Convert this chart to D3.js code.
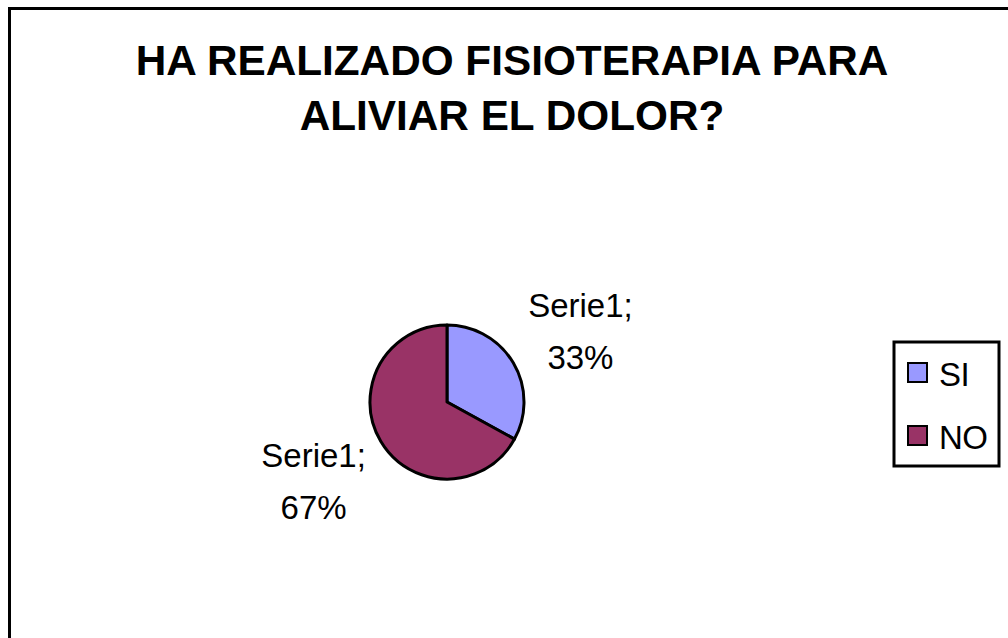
<!DOCTYPE html>
<html>
<head>
<meta charset="utf-8">
<script src="https://cdn.jsdelivr.net/npm/d3@7"></script>
<style>
	body { margin: 0; background: #fff; }
	svg { display: block; font-family: "Liberation Sans", Arial, sans-serif; }
</style>
</head>
<body>
<div id="chart"></div>
<script>
var width = 1008,
	height = 638;

// chart data
var categories = ['SI', 'NO'];
var values = [33, 67];
var seriesName = 'Serie1';
var colors = ['#9999ff', '#993366'];
var titleLines = ['HA REALIZADO FISIOTERAPIA PARA', 'ALIVIAR EL DOLOR?'];

var data = categories.map(function(c, i) {
	return { name: c, value: values[i], color: colors[i] };
});

var svg = d3.select('#chart')
	.append('svg')
	.attr('width', width)
	.attr('height', height);

// outer frame (runs off the bottom/right of the picture)
svg.append('rect')
	.attr('x', 9.5)
	.attr('y', 8.5)
	.attr('width', 1010)
	.attr('height', 650)
	.style('fill', '#fff')
	.style('stroke', '#000')
	.style('stroke-width', 3);

// title
svg.append('g')
	.selectAll('text')
	.data(titleLines)
	.enter()
	.append('text')
	.attr('x', 512)
	.attr('y', function(d, i) { return 75 + i * 55; })
	.attr('text-anchor', 'middle')
	.style('font-size', '42.3px')
	.style('font-weight', 'bold')
	.text(function(d) { return d; });

// pie
var cx = 447, cy = 402, radius = 77;

var pie = d3.pie()
	.sort(null)
	.value(function(d) { return d.value; });

var arc = d3.arc()
	.innerRadius(0)
	.outerRadius(radius);

// unit arc: centroid gives the direction of the slice middle
var dirArc = d3.arc()
	.innerRadius(1)
	.outerRadius(1);

var labelRx = 155, labelRy = 148;

var total = d3.sum(values);
var arcs = pie(data);

var g = svg.append('g')
	.attr('transform', 'translate(' + cx + ',' + cy + ')');

g.selectAll('path.slice')
	.data(arcs)
	.enter()
	.append('path')
	.classed('slice', true)
	.attr('d', arc)
	.style('fill', function(d) { return d.data.color; })
	.style('stroke', '#000')
	.style('stroke-width', 3)
	.style('stroke-linejoin', 'round');

var labels = g.selectAll('text.label')
	.data(arcs)
	.enter()
	.append('text')
	.classed('label', true)
	.attr('text-anchor', 'middle')
	.style('font-size', '33px');

function lx(d) { return dirArc.centroid(d)[0] * labelRx; }
function ly(d) { return dirArc.centroid(d)[1] * labelRy; }

labels.append('tspan')
	.attr('x', lx)
	.attr('y', function(d) { return ly(d) - 10; })
	.text(seriesName + ';');

labels.append('tspan')
	.attr('x', lx)
	.attr('y', function(d) { return ly(d) + 42; })
	.text(function(d) { return Math.round(d.data.value / total * 100) + '%'; });

// legend
var legend = svg.append('g')
	.attr('transform', 'translate(894,342)');

legend.append('rect')
	.attr('x', 0)
	.attr('y', 0)
	.attr('width', 105)
	.attr('height', 124)
	.style('fill', '#fff')
	.style('stroke', '#000')
	.style('stroke-width', 3);

var items = legend.selectAll('g.item')
	.data(data)
	.enter()
	.append('g')
	.classed('item', true)
	.attr('transform', function(d, i) { return 'translate(0,' + (i * 63) + ')'; });

items.append('rect')
	.attr('x', 14)
	.attr('y', 21)
	.attr('width', 19)
	.attr('height', 19)
	.style('fill', function(d) { return d.color; })
	.style('stroke', '#000')
	.style('stroke-width', 2);

items.append('text')
	.attr('x', 45)
	.attr('y', 44)
	.style('font-size', '33px')
	.style('letter-spacing', '-0.5px')
	.text(function(d) { return d.name; });
</script>
</body>
</html>
